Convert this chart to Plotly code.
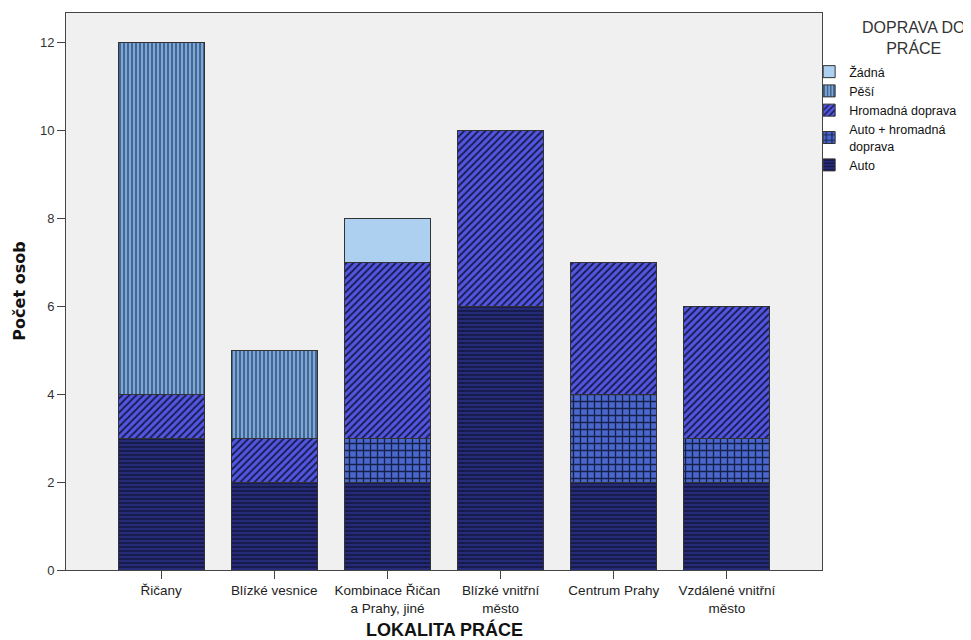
import plotly.graph_objects as go

categories = ["Řičany", "Blízké vesnice", "Kombinace Řičan<br>a Prahy, jiné",
              "Blízké vnitřní<br>město", "Centrum Prahy", "Vzdálené vnitřní<br>město"]
auto = [3, 2, 2, 6, 2, 2]
auto_hromadna = [0, 0, 1, 0, 2, 1]
hromadna = [1, 1, 4, 4, 3, 3]
pesi = [8, 2, 0, 0, 0, 0]
zadna = [0, 0, 1, 0, 0, 0]

series = [
    ("Auto", auto, "#262b78", "#10133a", "-", 4),
    ("Auto + hromadná<br>doprava", auto_hromadna, "#4a68cc", "#16204a", "+", 7),
    ("Hromadná doprava", hromadna, "#5256e0", "#181a4c", "/", 5),
    ("Pěší", pesi, "#7ba8d8", "#2c4a72", "|", 4),
    ("Žádná", zadna, "#aed0f0", "#aed0f0", "", 4),
]

fig = go.Figure()
for name, vals, bg, fg, shape, sz in series:
    pattern = dict(shape=shape, fgcolor=fg, bgcolor=bg, size=sz, solidity=0.35, fillmode="replace") if shape else dict(shape="")
    fig.add_trace(go.Bar(
        x=categories, y=vals, name=name,
        marker=dict(color=bg, line=dict(color="#333333", width=1), pattern=pattern),
        width=0.76,
    ))

base_font = "Liberation Sans, Arial, sans-serif"

# page body has an 8px margin, so the figure is sized 8px smaller
fig.update_layout(
    barmode="stack",
    width=963, height=632,
    paper_bgcolor="white", plot_bgcolor="#f0f0f0",
    margin=dict(l=58, r=149, t=5, b=70, autoexpand=False),
    font=dict(family=base_font, size=11, color="#222222"),
    legend=dict(
        traceorder="reversed", x=0.983, y=0.921, xanchor="left", yanchor="top",
        font=dict(size=12.5, color="#111111"), itemwidth=30, tracegroupgap=0,
        bgcolor="rgba(0,0,0,0)",
    ),
    annotations=[
        dict(text="DOPRAVA DO<br>PRÁCE", xref="paper", yref="paper", x=1.121, y=0.955,
             xanchor="center", yanchor="middle", showarrow=False,
             font=dict(size=16, color="#333333", family=base_font)),
        dict(text="<b>LOKALITA PRÁCE</b>", xref="paper", yref="paper", x=0.5, y=-0.107,
             xanchor="center", yanchor="middle", showarrow=False,
             font=dict(size=18, color="#111111", family=base_font)),
        dict(text="<b>Počet osob</b>", xref="paper", yref="paper", x=-0.062, y=0.5,
             xanchor="center", yanchor="middle", showarrow=False, textangle=-90,
             font=dict(size=16, color="#111111", family="DejaVu Sans, sans-serif")),
    ],
)
fig.update_xaxes(
    range=[-0.84, 5.84], showline=True, linecolor="#444444", linewidth=1, mirror=True,
    ticks="outside", ticklen=8, tickcolor="#444444", automargin=False,
    tickfont=dict(size=13.5, color="#222222", family=base_font),
)
fig.update_yaxes(
    range=[0, 12.68], showline=True, linecolor="#444444", linewidth=1, mirror=True,
    ticks="outside", ticklen=8, tickcolor="#444444", showgrid=False, zeroline=False,
    dtick=2, automargin=False,
    tickfont=dict(size=13, color="#333333"),
)

fig.write_html("out.html")
